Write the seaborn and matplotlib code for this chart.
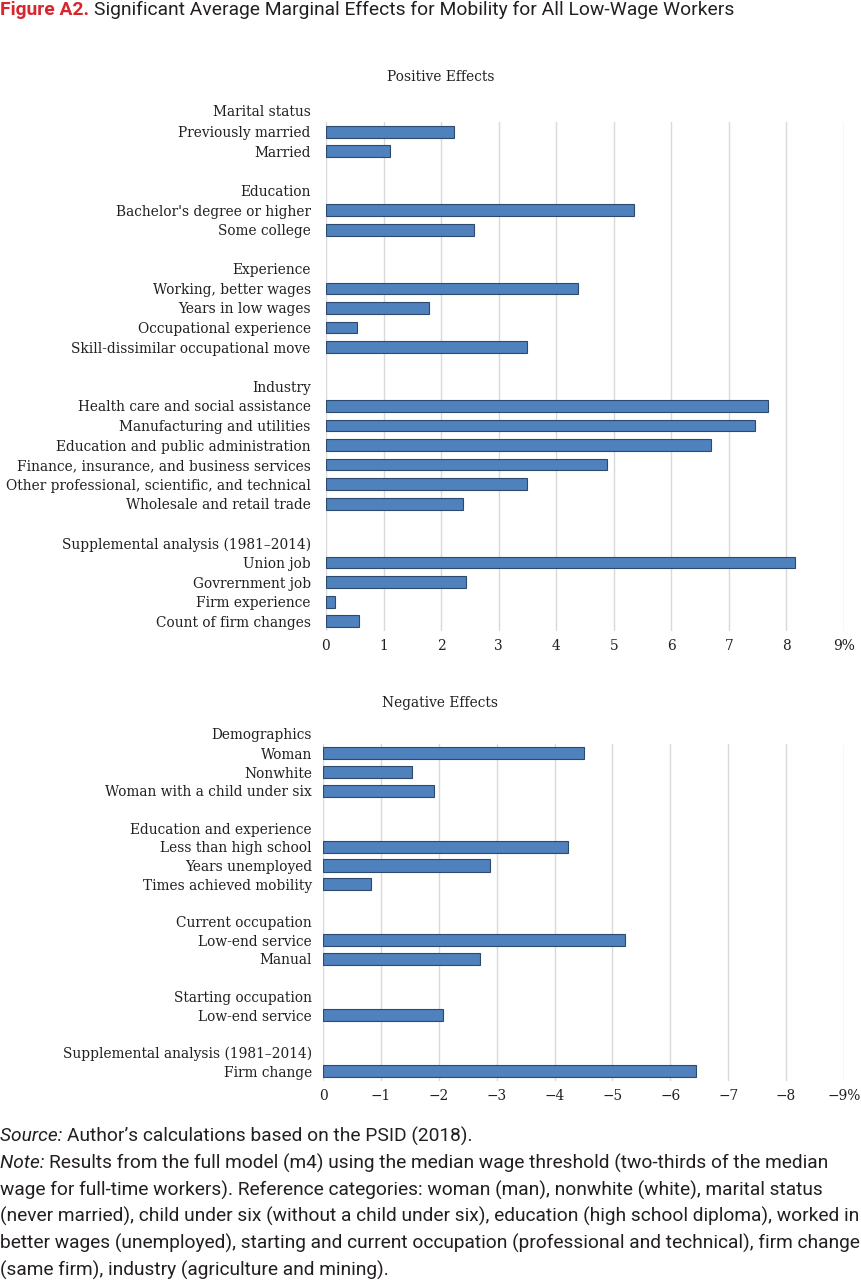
import numpy as np
import pandas as pd
import matplotlib
matplotlib.use("Agg")
import matplotlib.pyplot as plt
import seaborn as sns

# positive effects (None = group header or blank row)
pos_labels = [
    "Marital status", "Previously married", "Married", "",
    "Education", "Bachelor's degree or higher", "Some college", "",
    "Experience", "Working, better wages", "Years in low wages",
    "Occupational experience", "Skill-dissimilar occupational move", "",
    "Industry", "Health care and social assistance", "Manufacturing and utilities",
    "Education and public administration", "Finance, insurance, and business services",
    "Other professional, scientific, and technical", "Wholesale and retail trade", "",
    "Supplemental analysis (1981\u20132014)", "Union job", "Govrernment job",
    "Firm experience", "Count of firm changes",
]
pos_values = [
    None, 2.23, 1.12, None,
    None, 5.36, 2.57, None,
    None, 4.37, 1.79, 0.54, 3.49, None,
    None, 7.68, 7.46, 6.69, 4.89, 3.49, 2.38, None,
    None, 8.14, 2.44, 0.15, 0.57,
]

# negative effects
neg_labels = [
    "Demographics", "Woman", "Nonwhite", "Woman with a child under six", "",
    "Education and experience", "Less than high school", "Years unemployed",
    "Times achieved mobility", "",
    "Current occupation", "Low-end service", "Manual", "",
    "Starting occupation", "Low-end service", "",
    "Supplemental analysis (1981\u20132014)", "Firm change",
]
neg_values = [
    None, -4.51, -1.53, -1.91, None,
    None, -4.24, -2.89, -0.83, None,
    None, -5.21, -2.71, None,
    None, -2.08, None,
    None, -6.44,
]

pos_ticks = ["0", "1", "2", "3", "4", "5", "6", "7", "8", "9%"]
neg_ticks = ["0", "\u22121", "\u22122", "\u22123", "\u22124", "\u22125",
             "\u22126", "\u22127", "\u22128", "\u22129%"]

BAR = "#4F81BD"
EDGE = "#2C4A70"
GRID = "#D9D9D9"
TXT = "#231F20"
SERIF = ["DejaVu Serif"]
SANS = ["Roboto", "DejaVu Sans"]
LS = 9.9  # label size

sns.set_theme(style="white")
plt.rcParams["font.family"] = SERIF

W, H = 861, 1280
fig = plt.figure(figsize=(W / 100, H / 100), dpi=100)


def draw_panel(rect, labels, values, ticks, sign, height, pad):
    ax = fig.add_axes(rect)
    n = len(labels)
    df = pd.DataFrame({"key": [str(i) for i in range(n)], "value": values}).dropna()
    sns.barplot(data=df, x="value", y="key", order=[str(i) for i in range(n)],
                orient="h", color=BAR, saturation=1, edgecolor=EDGE,
                linewidth=0.8, width=height, ax=ax)
    ax.set_ylim(n - 0.5, 0.5)
    ax.set_yticks(range(1, n))
    ax.set_yticklabels(labels[1:], fontsize=LS, color=TXT)
    # first group header sits above the plot area
    ax.annotate(labels[0], xy=(0, 0), xycoords=("axes fraction", "data"),
                xytext=(-pad, 0), textcoords="offset points",
                ha="right", va="center", fontsize=LS, color=TXT,
                annotation_clip=False)
    ax.set_xlim(0, 9 * sign)
    ax.set_xticks(np.arange(10) * sign)
    ax.set_xticklabels(ticks, fontsize=LS, color=TXT)
    ax.xaxis.grid(True, color=GRID, linewidth=1)
    ax.set_axisbelow(True)
    ax.tick_params(axis="y", length=0, pad=pad)
    ax.tick_params(axis="x", length=0, pad=6)
    for s in ax.spines.values():
        s.set_visible(False)
    ax.set_xlabel("")
    ax.set_ylabel("")
    return ax


top = draw_panel([326 / W, 1 - 631 / H, 518 / W, 509 / H],
                 pos_labels, pos_values, pos_ticks, 1, 0.6, 11)
bot = draw_panel([323 / W, 1 - 1080.5 / H, 521 / W, 336.5 / H],
                 neg_labels, neg_values, neg_ticks, -1, 0.65, 8)

fig.text(441 / W, 1 - 77 / H, "Positive Effects", ha="center", va="center",
         fontsize=LS, color=TXT)
fig.text(440 / W, 1 - 703 / H, "Negative Effects", ha="center", va="center",
         fontsize=LS, color=TXT)

renderer = fig.canvas.get_renderer()


def run_text(x_px, y_px, parts, size):
    # draw consecutive text pieces on one line
    x = x_px
    for txt, kw in parts:
        t = fig.text(x / W, 1 - y_px / H, txt, ha="left", va="center",
                     fontsize=size, family=SANS, **kw)
        bb = t.get_window_extent(renderer)
        x = bb.x1


run_text(0, 10, [("Figure A2. ", dict(color="#D7262E", weight="bold")),
                 ("Significant Average Marginal Effects for Mobility for All Low-Wage Workers",
                  dict(color=TXT))], 13.9)

note_lines = [
    "Results from the full model (m4) using the median wage threshold (two-thirds of the median",
    "wage for full-time workers). Reference categories: woman (man), nonwhite (white), marital status",
    "(never married), child under six (without a child under six), education (high school diploma), worked in",
    "better wages (unemployed), starting and current occupation (professional and technical), firm change",
    "(same firm), industry (agriculture and mining).",
]
FS = 13.8
run_text(0, 1136, [("Source: ", dict(color=TXT, style="italic")),
                   ("Author\u2019s calculations based on the PSID (2018).", dict(color=TXT))], FS)
run_text(0, 1163, [("Note: ", dict(color=TXT, style="italic")),
                   (note_lines[0], dict(color=TXT))], FS)
for i, line in enumerate(note_lines[1:]):
    run_text(0, 1190 + 26.8 * i, [(line, dict(color=TXT))], FS)

fig.savefig("out.png", dpi=100, facecolor="white")
